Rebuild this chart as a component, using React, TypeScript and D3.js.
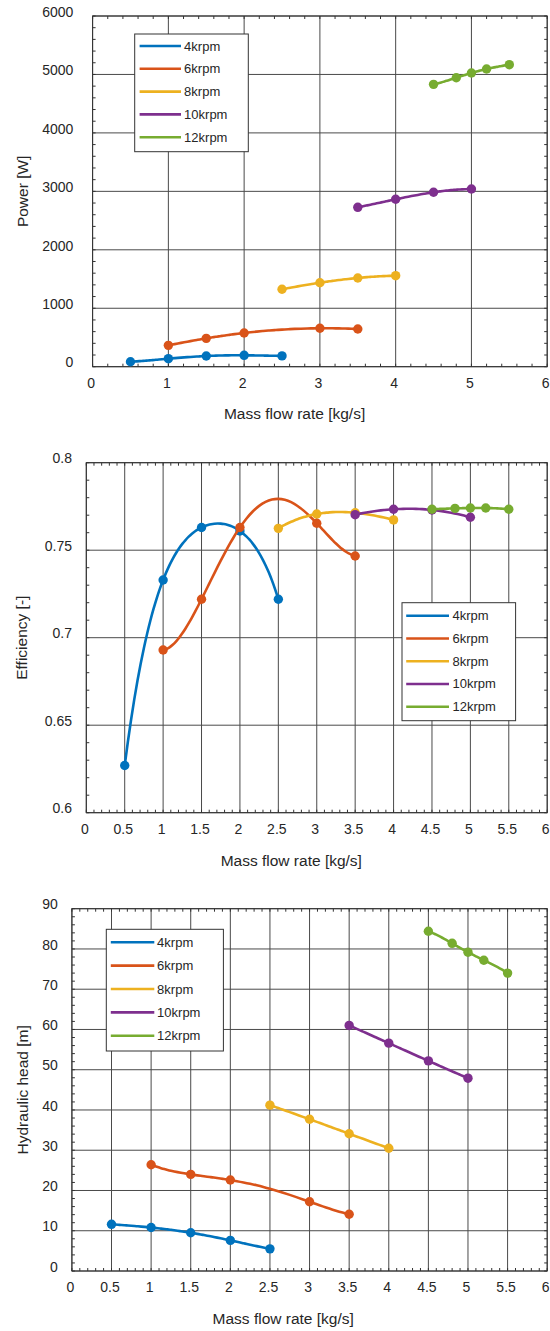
import React from "react";
import * as d3 from "d3";

// ---------- data ----------
const speedLabels = ["4krpm", "6krpm", "8krpm", "10krpm", "12krpm"];
const seriesColors = ["#0072BD", "#D95319", "#EDB120", "#7E2F8E", "#77AC30"];

const flow4 = [0.5, 1, 1.5, 2, 2.5];
const flow6 = [1, 1.5, 2, 3, 3.5];
const flow8 = [2.5, 3, 3.5, 4];
const flow10 = [3.5, 4, 4.5, 5];
const flow12 = [4.5, 4.8, 5, 5.2, 5.5];

const power4 = [85, 137, 183, 195, 185];
const power6 = [365, 485, 577, 657, 645];
const power8 = [1325, 1437, 1518, 1557];
const power10 = [2727, 2864, 2984, 3040];
const power12 = [4831, 4944, 5025, 5093, 5167];

const eff4 = [0.627, 0.733, 0.763, 0.761, 0.722];
const eff6 = [0.693, 0.722, 0.763, 0.7654, 0.7467];
const eff8 = [0.7625, 0.7707, 0.7714, 0.7673];
const eff10 = [0.7703, 0.7734, 0.773, 0.7688];
const eff12 = [0.7734, 0.7739, 0.7741, 0.7741, 0.7734];

const head4 = [11.6, 10.8, 9.5, 7.6, 5.5];
const head6 = [26.4, 24.0, 22.6, 17.2, 14.1];
const head8 = [41.2, 37.7, 34.1, 30.5];
const head10 = [61.0, 56.6, 52.2, 47.9];
const head12 = [84.4, 81.4, 79.2, 77.2, 74.0];

const powerXTicks = [0, 1, 2, 3, 4, 5, 6];
const powerYTicks = [0, 1000, 2000, 3000, 4000, 5000, 6000];
const effXTicks = [0, 0.5, 1, 1.5, 2, 2.5, 3, 3.5, 4, 4.5, 5, 5.5, 6];
const effYTicks = [0.6, 0.65, 0.7, 0.75, 0.8];
const headXTicks = [0, 0.5, 1, 1.5, 2, 2.5, 3, 3.5, 4, 4.5, 5, 5.5, 6];
const headYTicks = [0, 10, 20, 30, 40, 50, 60, 70, 80, 90];

const xTitle = "Mass flow rate [kg/s]";

// ---------- polynomial-interpolation curve for d3.line ----------
class PolyCurve {
  _context: any;
  _xs: number[];
  _ys: number[];
  constructor(context: any) {
    this._context = context;
    this._xs = [];
    this._ys = [];
  }
  areaStart() {}
  areaEnd() {}
  lineStart() {
    this._xs = [];
    this._ys = [];
  }
  point(x: number, y: number) {
    this._xs.push(+x);
    this._ys.push(+y);
  }
  lineEnd() {
    const xs = this._xs, ys = this._ys, n = xs.length, ctx = this._context;
    if (!n) return;
    ctx.moveTo(xs[0], ys[0]);
    if (n < 3) {
      for (let i = 1; i < n; i++) ctx.lineTo(xs[i], ys[i]);
      return;
    }
    // Newton divided differences
    const coef = ys.slice();
    for (let j = 1; j < n; j++)
      for (let i = n - 1; i >= j; i--) coef[i] = (coef[i] - coef[i - 1]) / (xs[i] - xs[i - j]);
    const evalP = (t: number) => {
      let p = coef[n - 1], dp = 0;
      for (let i = n - 2; i >= 0; i--) {
        dp = dp * (t - xs[i]) + p;
        p = p * (t - xs[i]) + coef[i];
      }
      return [p, dp];
    };
    const sub = 12;
    for (let i = 0; i < n - 1; i++) {
      for (let k = 0; k < sub; k++) {
        const t0 = xs[i] + ((xs[i + 1] - xs[i]) * k) / sub;
        const t1 = xs[i] + ((xs[i + 1] - xs[i]) * (k + 1)) / sub;
        const [p0, d0] = evalP(t0);
        const [p1, d1] = evalP(t1);
        const hh = t1 - t0;
        ctx.bezierCurveTo(t0 + hh / 3, p0 + (d0 * hh) / 3, t1 - hh / 3, p1 - (d1 * hh) / 3, t1, p1);
      }
    }
  }
}
const curvePoly = (context: any) => new PolyCurve(context);

// ---------- chart ----------
const FONT = "'Liberation Sans', Arial, Helvetica, sans-serif";
const TEXT = "#262626";
const GRID = "#4a4a4a";
const AXIS = "#333333";

type Legend = { x0: number; x1: number; y0: number; y1: number; lx0: number; lx1: number; tx: number; row0: number; step: number };
type Cfg = {
  left: number; right: number; top: number; bottom: number;
  xDomain: [number, number]; yDomain: [number, number];
  xTicks: number[]; yTicks: number[]; xMinor: number; yMinor: number;
  yLabelRight: number; xTitleX: number; xTitleY: number; yTitleX: number; yTitle: string;
  flows: number[][]; values: number[][]; legend: Legend;
};

function fmt(v: number) {
  return String(+v.toFixed(4));
}

function Chart({ c }: { c: Cfg }) {
  const x = d3.scaleLinear().domain(c.xDomain).range([c.left, c.right]);
  const y = d3.scaleLinear().domain(c.yDomain).range([c.bottom, c.top]);
  const xMinor = d3.range(c.xDomain[0], c.xDomain[1] + 1e-9, c.xMinor);
  const yMinor = d3.range(c.yDomain[0], c.yDomain[1] + 1e-9, c.yMinor);
  const line = d3.line<[number, number]>().x((d) => x(d[0])).y((d) => y(d[1])).curve(curvePoly as any);
  const L = c.legend;
  return (
    <g>
      <rect x={c.left} y={c.top} width={c.right - c.left} height={c.bottom - c.top} fill="#fff" />
      {/* grid */}
      {c.xTicks.map((t) => (
        <line key={"gx" + t} x1={x(t)} x2={x(t)} y1={c.top} y2={c.bottom} stroke={GRID} strokeWidth={1} />
      ))}
      {c.yTicks.map((t) => (
        <line key={"gy" + t} x1={c.left} x2={c.right} y1={y(t)} y2={y(t)} stroke={GRID} strokeWidth={1} />
      ))}
      {/* minor ticks */}
      {xMinor.map((t, i) => (
        <g key={"mx" + i}>
          <line x1={x(t)} x2={x(t)} y1={c.bottom} y2={c.bottom - 3} stroke={AXIS} />
          <line x1={x(t)} x2={x(t)} y1={c.top} y2={c.top + 3} stroke={AXIS} />
        </g>
      ))}
      {yMinor.map((t, i) => (
        <g key={"my" + i}>
          <line x1={c.left} x2={c.left + 3} y1={y(t)} y2={y(t)} stroke={AXIS} />
          <line x1={c.right} x2={c.right - 3} y1={y(t)} y2={y(t)} stroke={AXIS} />
        </g>
      ))}
      {/* box */}
      <rect x={c.left} y={c.top} width={c.right - c.left} height={c.bottom - c.top} fill="none" stroke={AXIS} strokeWidth={1} />
      {/* series */}
      {c.flows.map((fl, si) => {
        const pts: [number, number][] = fl.map((f, i) => [f, c.values[si][i]]);
        return (
          <g key={"s" + si}>
            <path d={line(pts) || ""} fill="none" stroke={seriesColors[si]} strokeWidth={2.6} />
            {pts.map((p, i) => (
              <circle key={i} cx={x(p[0])} cy={y(p[1])} r={4.7} fill={seriesColors[si]} />
            ))}
          </g>
        );
      })}
      {/* tick labels */}
      {c.xTicks.map((t) => (
        <text key={"lx" + t} x={x(t) - 1.5} y={c.bottom + 15.8} textAnchor="middle" dominantBaseline="central"
          fontFamily={FONT} fontSize={14} fill={TEXT}>{fmt(t)}</text>
      ))}
      {c.yTicks.map((t) => (
        <text key={"ly" + t} x={c.yLabelRight} y={y(t) - 4.3} textAnchor="end" dominantBaseline="central"
          fontFamily={FONT} fontSize={14} fill={TEXT}>{fmt(t)}</text>
      ))}
      {/* titles */}
      <text x={c.xTitleX} y={c.xTitleY} textAnchor="middle" dominantBaseline="central" fontFamily={FONT} fontSize={15.5} fill={TEXT}>
        {xTitle}
      </text>
      <text transform={`translate(${c.yTitleX},${(c.top + c.bottom) / 2}) rotate(-90)`} textAnchor="middle"
        dominantBaseline="central" fontFamily={FONT} fontSize={15.5} fill={TEXT}>
        {c.yTitle}
      </text>
      {/* legend */}
      <rect x={L.x0} y={L.y0} width={L.x1 - L.x0} height={L.y1 - L.y0} fill="#fff" stroke={AXIS} strokeWidth={1} />
      {speedLabels.map((s, i) => (
        <g key={"lg" + i}>
          <line x1={L.lx0} x2={L.lx1} y1={L.row0 + i * L.step} y2={L.row0 + i * L.step} stroke={seriesColors[i]} strokeWidth={2.6} />
          <text x={L.tx} y={L.row0 + i * L.step} dominantBaseline="central" fontFamily={FONT} fontSize={13} fill={TEXT}>{s}</text>
        </g>
      ))}
    </g>
  );
}

const flows = [flow4, flow6, flow8, flow10, flow12];

const powerCfg: Cfg = {
  left: 92.6, right: 547.2, top: 16, bottom: 366.7,
  xDomain: [0, 6], yDomain: [0, 6000], xTicks: powerXTicks, yTicks: powerYTicks, xMinor: 0.2, yMinor: 200,
  yLabelRight: 73.3, xTitleX: 294.6, xTitleY: 413, yTitleX: 22.5, yTitle: "Power [W]",
  flows, values: [power4, power6, power8, power10, power12],
  legend: { x0: 134.7, x1: 248.3, y0: 34, y1: 151.7, lx0: 139.6, lx1: 181, tx: 184.1, row0: 46, step: 22.8 },
};

const effCfg: Cfg = {
  left: 86.3, right: 547.2, top: 462.7, bottom: 812.7,
  xDomain: [0, 6], yDomain: [0.6, 0.8], xTicks: effXTicks, yTicks: effYTicks, xMinor: 0.1, yMinor: 0.01,
  yLabelRight: 72, xTitleX: 291.3, xTitleY: 860, yTitleX: 21.6, yTitle: "Efficiency [-]",
  flows, values: [eff4, eff6, eff8, eff10, eff12],
  legend: { x0: 402, x1: 515.6, y0: 602.7, y1: 720.7, lx0: 406.2, lx1: 449, tx: 452.5, row0: 615.7, step: 22.75 },
};

const headCfg: Cfg = {
  left: 71.9, right: 547.2, top: 908.7, bottom: 1271,
  xDomain: [0, 6], yDomain: [0, 90], xTicks: headXTicks, yTicks: headYTicks, xMinor: 0.1, yMinor: 2,
  yLabelRight: 57.9, xTitleX: 283.2, xTitleY: 1318.3, yTitleX: 22, yTitle: "Hydraulic head [m]",
  flows, values: [head4, head6, head8, head10, head12],
  legend: { x0: 106.3, x1: 223.4, y0: 929.3, y1: 1051, lx0: 110.8, lx1: 154.3, tx: 157.1, row0: 942.3, step: 23.35 },
};

export default function App() {
  return (
    <svg width={550} height={1331} style={{ position: "absolute", left: 0, top: 0, background: "#fff" }}>
      <rect x={0} y={0} width={550} height={1331} fill="#fff" />
      <Chart c={powerCfg} />
      <Chart c={effCfg} />
      <Chart c={headCfg} />
    </svg>
  );
}
